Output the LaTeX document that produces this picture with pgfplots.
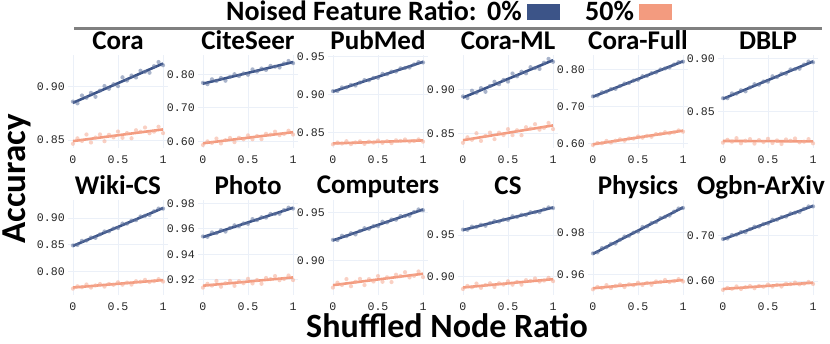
\documentclass[border=0pt]{standalone}
\usepackage{fontspec}
\setmainfont{Carlito}
\setmonofont{Liberation Mono}
\usepackage{pgfplots}
\pgfplotsset{compat=1.18}
\usepackage{pgfplotstable}

\definecolor{c0}{HTML}{3C5488}
\definecolor{c50}{HTML}{F39B7F}
\definecolor{gridc}{HTML}{EBF0F8}
\definecolor{rulec}{HTML}{808080}

% columns: shuffled ratio, acc (0% noise), acc (50% noise)
\pgfplotstableread{
x b s
0.00 0.8862 0.8465
0.05 0.8845 0.8516
0.10 0.8919 0.8491
0.15 0.8898 0.8552
0.20 0.8944 0.8477
0.25 0.8907 0.8523
0.30 0.8965 0.8553
0.35 0.9008 0.8489
0.40 0.8982 0.8549
0.45 0.9025 0.8525
0.50 0.9007 0.8580
0.55 0.9090 0.8521
0.60 0.9060 0.8566
0.65 0.9107 0.8517
0.70 0.9089 0.8592
0.75 0.9152 0.8578
0.80 0.9142 0.8618
0.85 0.9133 0.8564
0.90 0.9195 0.8579
0.95 0.9234 0.8625
1.00 0.9204 0.8565
}\tCora
\pgfplotstableread{
x b s
0.00 0.7744 0.5900
0.05 0.7704 0.6007
0.10 0.7848 0.5963
0.15 0.7800 0.6090
0.20 0.7888 0.5946
0.25 0.7808 0.6043
0.30 0.7920 0.6109
0.35 0.8000 0.5986
0.40 0.7944 0.6112
0.45 0.8024 0.6069
0.50 0.7984 0.6185
0.55 0.8144 0.6072
0.60 0.8080 0.6168
0.65 0.8168 0.6075
0.70 0.8128 0.6231
0.75 0.8248 0.6208
0.80 0.8224 0.6294
0.85 0.8200 0.6191
0.90 0.8320 0.6227
0.95 0.8392 0.6324
1.00 0.8328 0.6210
}\tCiteSeer
\pgfplotstableread{
x b s
0.00 0.9046 0.8348
0.05 0.9048 0.8372
0.10 0.9095 0.8359
0.15 0.9095 0.8389
0.20 0.9128 0.8351
0.25 0.9120 0.8373
0.30 0.9159 0.8387
0.35 0.9191 0.8354
0.40 0.9188 0.8384
0.45 0.9220 0.8371
0.50 0.9221 0.8398
0.55 0.9273 0.8367
0.60 0.9268 0.8389
0.65 0.9302 0.8364
0.70 0.9303 0.8401
0.75 0.9345 0.8393
0.80 0.9350 0.8412
0.85 0.9356 0.8384
0.90 0.9397 0.8391
0.95 0.9427 0.8413
1.00 0.9422 0.8383
}\tPubMed
\pgfplotstableread{
x b s
0.00 0.8924 0.8390
0.05 0.8905 0.8453
0.10 0.8989 0.8425
0.15 0.8966 0.8500
0.20 0.9019 0.8412
0.25 0.8977 0.8469
0.30 0.9044 0.8507
0.35 0.9092 0.8432
0.40 0.9064 0.8506
0.45 0.9113 0.8479
0.50 0.9094 0.8547
0.55 0.9187 0.8478
0.60 0.9155 0.8534
0.65 0.9208 0.8477
0.70 0.9189 0.8569
0.75 0.9260 0.8554
0.80 0.9250 0.8604
0.85 0.9240 0.8541
0.90 0.9311 0.8561
0.95 0.9355 0.8618
1.00 0.9322 0.8548
}\tCoraML
\pgfplotstableread{
x b s
0.00 0.7269 0.5950
0.05 0.7290 0.6005
0.10 0.7380 0.5999
0.15 0.7398 0.6062
0.20 0.7467 0.6016
0.25 0.7473 0.6067
0.30 0.7551 0.6105
0.35 0.7617 0.6068
0.40 0.7632 0.6130
0.45 0.7698 0.6125
0.50 0.7719 0.6183
0.55 0.7815 0.6150
0.60 0.7827 0.6200
0.65 0.7896 0.6175
0.70 0.7917 0.6249
0.75 0.7998 0.6252
0.80 0.8025 0.6298
0.85 0.8052 0.6269
0.90 0.8133 0.6295
0.95 0.8196 0.6346
1.00 0.8208 0.6312
}\tCoraFull
\pgfplotstableread{
x b s
0.00 0.8626 0.8210
0.05 0.8626 0.8237
0.10 0.8671 0.8219
0.15 0.8669 0.8252
0.20 0.8700 0.8204
0.25 0.8690 0.8228
0.30 0.8727 0.8243
0.35 0.8757 0.8201
0.40 0.8752 0.8234
0.45 0.8782 0.8216
0.50 0.8781 0.8246
0.55 0.8831 0.8207
0.60 0.8824 0.8231
0.65 0.8856 0.8198
0.70 0.8855 0.8240
0.75 0.8895 0.8228
0.80 0.8898 0.8249
0.85 0.8902 0.8213
0.90 0.8941 0.8219
0.95 0.8969 0.8243
1.00 0.8962 0.8204
}\tDBLP
\pgfplotstableread{
x b s
0.00 0.8489 0.7680
0.05 0.8498 0.7723
0.10 0.8575 0.7706
0.15 0.8581 0.7757
0.20 0.8637 0.7700
0.25 0.8631 0.7739
0.30 0.8696 0.7766
0.35 0.8750 0.7717
0.40 0.8752 0.7768
0.45 0.8806 0.7751
0.50 0.8814 0.7798
0.55 0.8898 0.7753
0.60 0.8897 0.7792
0.65 0.8954 0.7755
0.70 0.8962 0.7818
0.75 0.9031 0.7809
0.80 0.9045 0.7844
0.85 0.9060 0.7803
0.90 0.9128 0.7818
0.95 0.9179 0.7857
1.00 0.9178 0.7812
}\tWiki
\pgfplotstableread{
x b s
0.00 0.9540 0.9138
0.05 0.9537 0.9168
0.10 0.9571 0.9154
0.15 0.9566 0.9190
0.20 0.9589 0.9145
0.25 0.9578 0.9172
0.30 0.9606 0.9191
0.35 0.9627 0.9152
0.40 0.9621 0.9188
0.45 0.9642 0.9173
0.50 0.9639 0.9207
0.55 0.9676 0.9171
0.60 0.9668 0.9198
0.65 0.9691 0.9168
0.70 0.9688 0.9214
0.75 0.9717 0.9205
0.80 0.9717 0.9229
0.85 0.9718 0.9196
0.90 0.9747 0.9206
0.95 0.9766 0.9233
1.00 0.9759 0.9197
}\tPhoto
\pgfplotstableread{
x b s
0.00 0.9216 0.8722
0.05 0.9214 0.8773
0.10 0.9258 0.8749
0.15 0.9254 0.8810
0.20 0.9284 0.8736
0.25 0.9272 0.8782
0.30 0.9308 0.8812
0.35 0.9336 0.8748
0.40 0.9330 0.8809
0.45 0.9358 0.8785
0.50 0.9356 0.8841
0.55 0.9404 0.8782
0.60 0.9396 0.8828
0.65 0.9426 0.8779
0.70 0.9424 0.8855
0.75 0.9462 0.8841
0.80 0.9464 0.8881
0.85 0.9466 0.8827
0.90 0.9504 0.8843
0.95 0.9530 0.8889
1.00 0.9522 0.8830
}\tComputers
\pgfplotstableread{
x b s
0.00 0.9565 0.8853
0.05 0.9563 0.8889
0.10 0.9601 0.8873
0.15 0.9597 0.8917
0.20 0.9623 0.8866
0.25 0.9611 0.8899
0.30 0.9643 0.8921
0.35 0.9667 0.8877
0.40 0.9661 0.8921
0.45 0.9685 0.8905
0.50 0.9682 0.8945
0.55 0.9725 0.8904
0.60 0.9717 0.8937
0.65 0.9743 0.8904
0.70 0.9740 0.8958
0.75 0.9773 0.8949
0.80 0.9774 0.8978
0.85 0.9775 0.8941
0.90 0.9808 0.8953
0.95 0.9831 0.8986
1.00 0.9823 0.8946
}\tCS
\pgfplotstableread{
x b s
0.00 0.97021 0.95320
0.05 0.97068 0.95430
0.10 0.97276 0.95389
0.15 0.97316 0.95519
0.20 0.97475 0.95378
0.25 0.97487 0.95478
0.30 0.97667 0.95547
0.35 0.97819 0.95427
0.40 0.97852 0.95556
0.45 0.98004 0.95516
0.50 0.98051 0.95635
0.55 0.98273 0.95525
0.60 0.98299 0.95624
0.65 0.98458 0.95534
0.70 0.98505 0.95693
0.75 0.98692 0.95673
0.80 0.98753 0.95762
0.85 0.98814 0.95662
0.90 0.99001 0.95701
0.95 0.99146 0.95801
1.00 0.99172 0.95690
}\tPhysics
\pgfplotstableread{
x b s
0.00 0.6929 0.5803
0.05 0.6939 0.5846
0.10 0.7018 0.5829
0.15 0.7025 0.5880
0.20 0.7083 0.5823
0.25 0.7078 0.5862
0.30 0.7145 0.5889
0.35 0.7200 0.5840
0.40 0.7204 0.5891
0.45 0.7259 0.5874
0.50 0.7269 0.5921
0.55 0.7354 0.5875
0.60 0.7355 0.5914
0.65 0.7413 0.5877
0.70 0.7423 0.5940
0.75 0.7493 0.5931
0.80 0.7509 0.5966
0.85 0.7525 0.5925
0.90 0.7595 0.5940
0.95 0.7647 0.5979
1.00 0.7648 0.5934
}\tOgbn

\pgfplotsset{
  pan/.style={
    scale only axis, width=100pt, anchor=south west,
    xmin=-0.055, xmax=1.055,
    xtick={0,0.5,1}, xticklabels={0,0.5,1},
    scaled y ticks=false,
    /pgf/number format/fixed, /pgf/number format/fixed zerofill,
    /pgf/number format/precision=2, /pgf/number format/assume math mode=true,
    axis line style={draw=none}, major tick length=0pt,
    grid=major, grid style={gridc, line width=0.9pt},
    tick label style={font=\fontsize{11.6}{12}\selectfont\ttfamily, text=black!85},
    yticklabel style={inner xsep=0pt, xshift=-3pt},
    xticklabel style={inner ysep=0pt, yshift=-8pt, anchor=north},
    title style={font=\bfseries\fontsize{27}{30}\selectfont, at={(0.5,1)}, anchor=base, inner sep=0pt},
  },
  row1/.style={height=93pt},
  row2/.style={height=95pt},
  pts/.style={only marks, mark=*, mark size=2.1pt, mark options={draw opacity=0, fill opacity=0.55}},
}

% #1 x, #2 y, #3 table, #4 title, #5 options, #6-#9 fit line ends
\newcommand{\panel}[9]{%
\begin{axis}[pan, at={(#1pt,#2pt)}, title={#4}, #5]
\addplot[c0!80!white, pts] table[x=x, y=b] {#3};
\addplot[c0, line width=2.6pt] coordinates {(0,#6) (1,#7)};
\addplot[c50!85!white, pts] table[x=x, y=s] {#3};
\addplot[c50, line width=2.6pt] coordinates {(0,#8) (1,#9)};
\end{axis}}

\begin{document}
\begin{tikzpicture}
\path[use as bounding box] (0,0) rectangle (830pt,-343pt);

% legend
\begin{scope}[every node/.style={font=\bfseries\fontsize{28}{30}\selectfont, inner sep=0pt, anchor=base west}]
\node at (226pt,-20pt) {Noised Feature Ratio:};
\node at (487pt,-20pt) {0\%};
\node at (585pt,-20pt) {50\%};
\end{scope}
\fill[c0] (527pt,-4pt) rectangle (560pt,-20pt);
\fill[c50] (639pt,-4pt) rectangle (672pt,-20pt);
\draw[rulec, line width=3pt] (74pt,-28pt) -- (822pt,-28pt);

\panel{68}{-148}{\tCora}{Cora}{row1, ymin=0.8425, ymax=0.930, ytick={0.85,0.90}}{0.885}{0.922}{0.849}{0.860}
\panel{198}{-148}{\tCiteSeer}{CiteSeer}{row1, ymin=0.581, ymax=0.857, ytick={0.6,0.7,0.8}}{0.772}{0.836}{0.595}{0.628}
\panel{328}{-148}{\tPubMed}{PubMed}{row1, ymin=0.830, ymax=0.952, ytick={0.85,0.90,0.95}}{0.904}{0.943}{0.836}{0.840}
\panel{458}{-148}{\tCoraML}{Cora-ML}{row1, ymin=0.833, ymax=0.940, ytick={0.85,0.90}}{0.891}{0.934}{0.842}{0.859}
\panel{588}{-148}{\tCoraFull}{Cora-Full}{row1, ymin=0.587, ymax=0.839, ytick={0.6,0.7,0.8}}{0.726}{0.822}{0.597}{0.634}
\panel{718}{-148}{\tDBLP}{DBLP}{row1, ymin=0.816, ymax=0.903, ytick={0.85,0.90}}{0.862}{0.897}{0.8226}{0.8222}

\panel{68}{-295}{\tWiki}{Wiki-CS}{row2, ymin=0.756, ymax=0.934, ytick={0.80,0.85,0.90}}{0.848}{0.919}{0.770}{0.784}
\panel{198}{-295}{\tPhoto}{Photo}{row2, ymin=0.908, ymax=0.9826, ytick={0.92,0.94,0.96,0.98}}{0.9535}{0.9765}{0.9153}{0.9218}
\panel{328}{-295}{\tComputers}{Computers}{row2, ymin=0.8645, ymax=0.9628, ytick={0.90,0.95}}{0.921}{0.953}{0.8747}{0.8865}
\panel{458}{-295}{\tCS}{CS}{row2, ymin=0.878, ymax=0.992, ytick={0.90,0.95}}{0.956}{0.983}{0.887}{0.897}
\panel{588}{-295}{\tPhysics}{Physics}{row2, ymin=0.9505, ymax=0.9955, ytick={0.96,0.98}}{0.970}{0.992}{0.9537}{0.9576}
\panel{718}{-295}{\tOgbn}{Ogbn-ArXiv}{row2, ymin=0.569, ymax=0.779, ytick={0.6,0.7}, title style={xshift=-7pt}}{0.692}{0.766}{0.5823}{0.5962}

% shared axis labels
\node[rotate=90, anchor=base, inner sep=0pt, font=\bfseries\fontsize{35}{40}\selectfont] at (25pt,-179pt) {Accuracy};
\node[anchor=base, inner sep=0pt, font=\bfseries\fontsize{34}{40}\selectfont] at (447pt,-337pt) {Shuffled Node Ratio};
\end{tikzpicture}
\end{document}
